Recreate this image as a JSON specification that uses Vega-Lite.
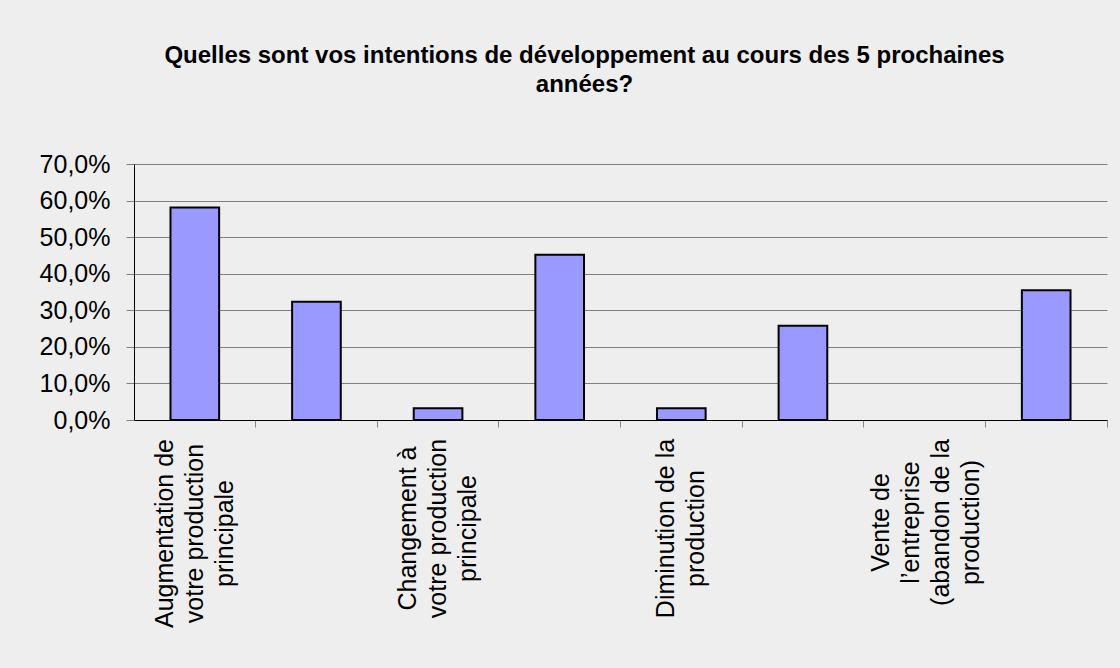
{
  "$schema": "https://vega.github.io/schema/vega-lite/v6.json",
  "autosize": {"type": "none"},
  "width": 973,
  "height": 256,
  "padding": {"left": 134, "top": 164, "right": 13, "bottom": 248},
  "background": "#eeeeee",
  "title": {
    "text": ["Quelles sont vos intentions de développement au cours des 5 prochaines", "années?"],
    "font": "Liberation Sans",
    "fontSize": 24,
    "fontWeight": "bold",
    "color": "#000000",
    "lineHeight": 29,
    "anchor": "middle",
    "frame": "group",
    "dx": -36,
    "offset": 55
  },
  "data": {
    "values": [
      {"categorie": "Augmentation de votre production principale", "part": 0.581},
      {"categorie": "Augmentation de vos productions secondaires", "part": 0.323},
      {"categorie": "Changement à votre production principale", "part": 0.032},
      {"categorie": "Diversification de la production", "part": 0.452},
      {"categorie": "Diminution de la production", "part": 0.032},
      {"categorie": "Maintien de la production actuelle", "part": 0.258},
      {"categorie": "Vente de l’entreprise (abandon de la production)", "part": 0.0},
      {"categorie": "Transmission de l’entreprise", "part": 0.355}
    ]
  },
  "mark": {"type": "bar", "color": "#9999ff", "stroke": "#000000", "strokeWidth": 2},
  "encoding": {
    "x": {
      "field": "categorie",
      "type": "nominal",
      "sort": null,
      "scale": {"paddingInner": 0.6, "paddingOuter": 0.3},
      "axis": {
        "title": null,
        "labelAngle": -90,
        "labelAlign": "center",
        "labelBaseline": "middle",
        "labelFont": "Liberation Sans",
        "labelFontSize": 25,
        "labelLineHeight": 30,
        "labelColor": "#000000",
        "labelPadding": {
          "condition": [
            {"test": "datum.value == 'Augmentation de votre production principale'", "value": 106},
            {"test": "datum.value == 'Vente de l’entreprise (abandon de la production)'", "value": 95}
          ],
          "value": 101
        },
        "labelOffset": {
          "condition": [
            {"test": "datum.value == 'Augmentation de votre production principale' || datum.value == 'Changement à votre production principale'", "value": -30},
            {"test": "datum.value == 'Diminution de la production'", "value": -15},
            {"test": "datum.value == 'Vente de l’entreprise (abandon de la production)'", "value": -44}
          ],
          "value": 0
        },
        "labelOverlap": false,
        "labelLimit": 0,
        "bandPosition": 1.75,
        "tickSize": 7,
        "tickColor": "#888888",
        "domainColor": "#000000",
        "domainWidth": 1,
        "grid": false,
        "labelExpr": "datum.value == 'Augmentation de votre production principale' ? ['Augmentation de', 'votre production', 'principale'] : datum.value == 'Changement à votre production principale' ? ['Changement à', 'votre production', 'principale'] : datum.value == 'Diminution de la production' ? ['Diminution de la', 'production'] : datum.value == 'Vente de l’entreprise (abandon de la production)' ? ['Vente de', 'l’entreprise', '(abandon de la', 'production)'] : ''"
      }
    },
    "y": {
      "field": "part",
      "type": "quantitative",
      "scale": {"domain": [0, 0.7], "nice": false},
      "axis": {
        "title": null,
        "values": [0, 0.1, 0.2, 0.3, 0.4, 0.5, 0.6, 0.7],
        "labelExpr": "replace(format(datum.value, '.1%'), '.', ',')",
        "labelFont": "Liberation Sans",
        "labelFontSize": 25,
        "labelColor": "#000000",
        "labelPadding": 16,
        "tickSize": 8,
        "tickColor": "#808080",
        "domainColor": "#000000",
        "gridColor": "#808080",
        "gridWidth": 1,
        "gridOpacity": 1
      }
    },
    "strokeOpacity": {"condition": {"test": "datum.part == 0", "value": 0}, "value": 1}
  },
  "config": {"view": {"stroke": null}}
}
